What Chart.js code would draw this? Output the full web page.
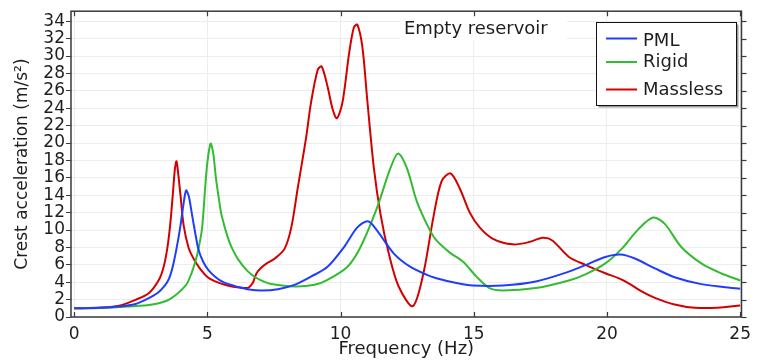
<!DOCTYPE html>
<html>
<head>
<meta charset="utf-8">
<script src="https://cdn.jsdelivr.net/npm/chart.js@4/dist/chart.umd.min.js"></script>
<style>
html,body{margin:0;padding:0;background:#fff;}
#wrap{width:758px;height:360px;}
</style>
</head>
<body>
<div id="wrap"><canvas id="c" width="758" height="360"></canvas></div>
<script>
// ---- data ----
const seriesNames = ["PML", "Rigid", "Massless"];
const xTickValues = [0, 5, 10, 15, 20, 25];
const yTickStep = 2;
const annotationText = "Empty reservoir";

const pmlFreq = [0, 1, 1.7, 2.3, 2.69, 3.13, 3.4, 3.56, 3.7, 3.85, 3.99, 4.1, 4.2, 4.3, 4.4, 4.5, 4.67, 4.85, 5.04, 5.3, 5.6, 6.16, 6.5, 7.03, 7.65, 8.27, 8.89, 9.51, 10.13, 10.63, 11.03, 11.37, 12.0, 12.61, 13.24, 13.6, 14.35, 14.97, 16.09, 17.33, 18.57, 19.19, 19.94, 20.5, 21.05, 21.8, 22.54, 23.54, 25];
const pmlVal  = [1.0, 1.06, 1.2, 1.5, 2.0, 2.76, 3.6, 4.4, 5.8, 8.0, 10.5, 12.9, 14.55, 13.9, 12.2, 10.4, 7.7, 6.3, 5.4, 4.6, 4.0, 3.44, 3.2, 3.06, 3.2, 3.7, 4.64, 5.78, 8.04, 10.3, 11.0, 9.93, 7.29, 5.78, 4.84, 4.46, 3.9, 3.62, 3.62, 4.08, 5.21, 5.97, 6.9, 7.18, 6.72, 5.59, 4.57, 3.78, 3.25];

const rigidFreq = [0, 1, 2, 2.93, 3.56, 4.18, 4.4, 4.55, 4.67, 4.8, 4.92, 5.0, 5.12, 5.22, 5.32, 5.45, 5.54, 5.75, 5.91, 6.16, 6.5, 6.78, 7.1, 7.4, 8.27, 9.02, 9.51, 10.26, 10.75, 11.37, 11.87, 12.16, 12.49, 12.86, 13.36, 13.6, 14.1, 14.6, 15.1, 15.59, 16.09, 17.33, 18.57, 19.19, 19.94, 20.56, 21.18, 21.73, 22.17, 22.79, 23.54, 24.28, 25];
const rigidVal  = [1.0, 1.03, 1.2, 1.44, 2.0, 3.6, 5.0, 6.4, 7.9, 10.2, 15.0, 17.8, 19.93, 18.8, 16.0, 13.2, 11.6, 9.3, 8.0, 6.6, 5.3, 4.6, 4.1, 3.8, 3.51, 3.7, 4.27, 5.78, 8.04, 12.57, 17.1, 18.8, 17.1, 13.3, 9.93, 8.8, 7.4, 6.34, 4.64, 3.33, 3.06, 3.33, 4.2, 4.9, 6.16, 7.86, 10.1, 11.44, 10.7, 8.04, 6.16, 5.03, 4.2];

const masslessFreq = [0, 1, 1.69, 2.32, 2.81, 3.18, 3.37, 3.5, 3.6, 3.7, 3.78, 3.84, 3.9, 3.99, 4.11, 4.3, 4.5, 4.67, 5.0, 5.29, 5.79, 6.2, 6.53, 6.7, 6.84, 7.0, 7.2, 7.53, 7.9, 8.15, 8.39, 8.7, 8.89, 9.14, 9.29, 9.51, 9.7, 9.86, 10.07, 10.32, 10.5, 10.63, 10.82, 11.0, 11.25, 11.5, 11.81, 12.18, 12.71, 13.11, 13.48, 13.79, 14.13, 14.47, 14.85, 15.22, 15.72, 16.46, 17.08, 17.58, 17.95, 18.57, 19.19, 19.94, 20.43, 20.8, 21.3, 21.8, 22.54, 23.29, 24.15, 25];
const masslessVal  = [1.0, 1.08, 1.3, 2.0, 2.76, 4.27, 5.9, 8.0, 10.5, 14.0, 17.0, 17.9, 16.6, 14.0, 10.5, 7.9, 6.6, 5.78, 4.6, 4.1, 3.6, 3.4, 3.35, 3.9, 5.0, 5.6, 6.1, 6.72, 7.86, 10.3, 14.8, 20.5, 24.65, 28.4, 28.8, 26.5, 23.9, 22.84, 24.65, 30.3, 33.3, 33.6, 31.0, 25.0, 17.1, 11.8, 7.29, 3.51, 1.25, 5.03, 11.4, 15.6, 16.5, 14.8, 12.0, 10.3, 8.99, 8.35, 8.61, 9.1, 8.8, 6.9, 6.0, 5.03, 4.46, 3.9, 2.95, 2.2, 1.44, 1.06, 1.06, 1.32];

const seriesColors = ["#1f3cff", "#33bb33", "#d40000"];

// ---- build datasets ----
function toPoints(fs, vs){ return fs.map((f,i)=>({x:f, y:vs[i]})); }
const allFreq = [pmlFreq, rigidFreq, masslessFreq];
const allVal = [pmlVal, rigidVal, masslessVal];
const datasets = seriesNames.map((n,i)=>({
  label: n,
  data: toPoints(allFreq[i], allVal[i]),
  borderColor: seriesColors[i],
  backgroundColor: seriesColors[i],
  borderWidth: 2,
  pointRadius: 0,
  fill: false,
  tension: 0.3
}));

const FONT = "'DejaVu Sans', sans-serif";
const TEXT = '#1e1e1e';

const decor = {
  id: 'decor',
  beforeDatasetsDraw(chart){
    const ctx = chart.ctx;
    ctx.save();
    ctx.fillStyle = '#fff';
    ctx.fillRect(400, 8, 167, 32);
    ctx.fillStyle = TEXT;
    ctx.font = "18px " + FONT;
    ctx.textBaseline = 'alphabetic';
    ctx.textAlign = 'left';
    ctx.fillText(annotationText, 404, 33.5);
    ctx.restore();
  },
  afterDraw(chart){
    const ctx = chart.ctx;
    const a = chart.chartArea;
    const xs = chart.scales.x, ys = chart.scales.y;
    ctx.save();
    ctx.strokeStyle = '#3a3a3a';
    ctx.lineWidth = 1.5;
    ctx.strokeRect(a.left, a.top, a.right - a.left, a.bottom - a.top);
    ctx.lineWidth = 1.2;
    xTickValues.forEach(v=>{
      const px = Math.round(xs.getPixelForValue(v)) + 0.5;
      ctx.beginPath();
      ctx.moveTo(px, a.bottom); ctx.lineTo(px, a.bottom - 5);
      ctx.moveTo(px, a.top); ctx.lineTo(px, a.top + 5);
      ctx.stroke();
    });
    for (let v = 0; v <= 34; v += yTickStep){
      const py = Math.round(ys.getPixelForValue(v)) + 0.5;
      ctx.beginPath();
      ctx.moveTo(a.right, py); ctx.lineTo(a.right + 5, py);
      ctx.stroke();
    }
    const bx = 596.5, by = 22.5, bw = 140, bh = 83;
    ctx.fillStyle = '#9a9a9a';
    ctx.fillRect(bx + 2, by + 2, bw, bh);
    ctx.fillStyle = '#fff';
    ctx.fillRect(bx, by, bw, bh);
    ctx.strokeStyle = '#111';
    ctx.lineWidth = 1;
    ctx.strokeRect(bx, by, bw, bh);
    const lineY = [38.5, 62, 89.5];
    const textY = [41.5, 62, 90.5];
    ctx.font = "18px " + FONT;
    ctx.textBaseline = 'middle';
    ctx.textAlign = 'left';
    chart.data.datasets.forEach((d,i)=>{
      ctx.strokeStyle = d.borderColor;
      ctx.lineWidth = 2;
      ctx.beginPath();
      ctx.moveTo(606, lineY[i]); ctx.lineTo(637, lineY[i]);
      ctx.stroke();
      ctx.fillStyle = TEXT;
      ctx.fillText(d.label, 643, textY[i]);
    });
    ctx.restore();
  }
};

new Chart(document.getElementById('c'), {
  type: 'line',
  data: { datasets },
  options: {
    responsive: false,
    animation: false,
    devicePixelRatio: 1,
    layout: { padding: { left: 0, right: 11, top: 7, bottom: 0 } },
    plugins: { legend: { display: false }, tooltip: { enabled: false }, title: { display: false } },
    scales: {
      x: {
        type: 'linear',
        min: -0.12,
        max: 25.05,
        afterBuildTicks: s => { s.ticks = xTickValues.map(v=>({value:v})); },
        afterFit: s => { s.height = 43; },
        grid: { color: '#ededed', lineWidth: 1, drawTicks: false },
        border: { display: false },
        ticks: { font: { family: FONT, size: 17 }, color: TEXT, padding: 7, maxRotation: 0, autoSkip: false },
        title: { display: true, text: 'Frequency (Hz)', font: { family: FONT, size: 18 }, color: TEXT, padding: { top: 0, bottom: 0 } }
      },
      y: {
        type: 'linear',
        min: 0,
        max: 35.15,
        afterBuildTicks: s => { const t = []; for (let v = 0; v <= 34; v += yTickStep) t.push({value:v}); s.ticks = t; },
        afterFit: s => { s.width = 71; },
        grid: { color: '#ededed', lineWidth: 1, drawTicks: true, tickLength: 5, tickColor: '#3a3a3a' },
        border: { display: false },
        ticks: { font: { family: FONT, size: 17 }, color: TEXT, padding: 1, autoSkip: false },
        title: { display: true, text: 'Crest acceleration (m/s²)', font: { family: FONT, size: 17 }, color: TEXT, padding: { top: 12, bottom: 0 } }
      }
    }
  },
  plugins: [decor]
});
</script>
</body>
</html>
